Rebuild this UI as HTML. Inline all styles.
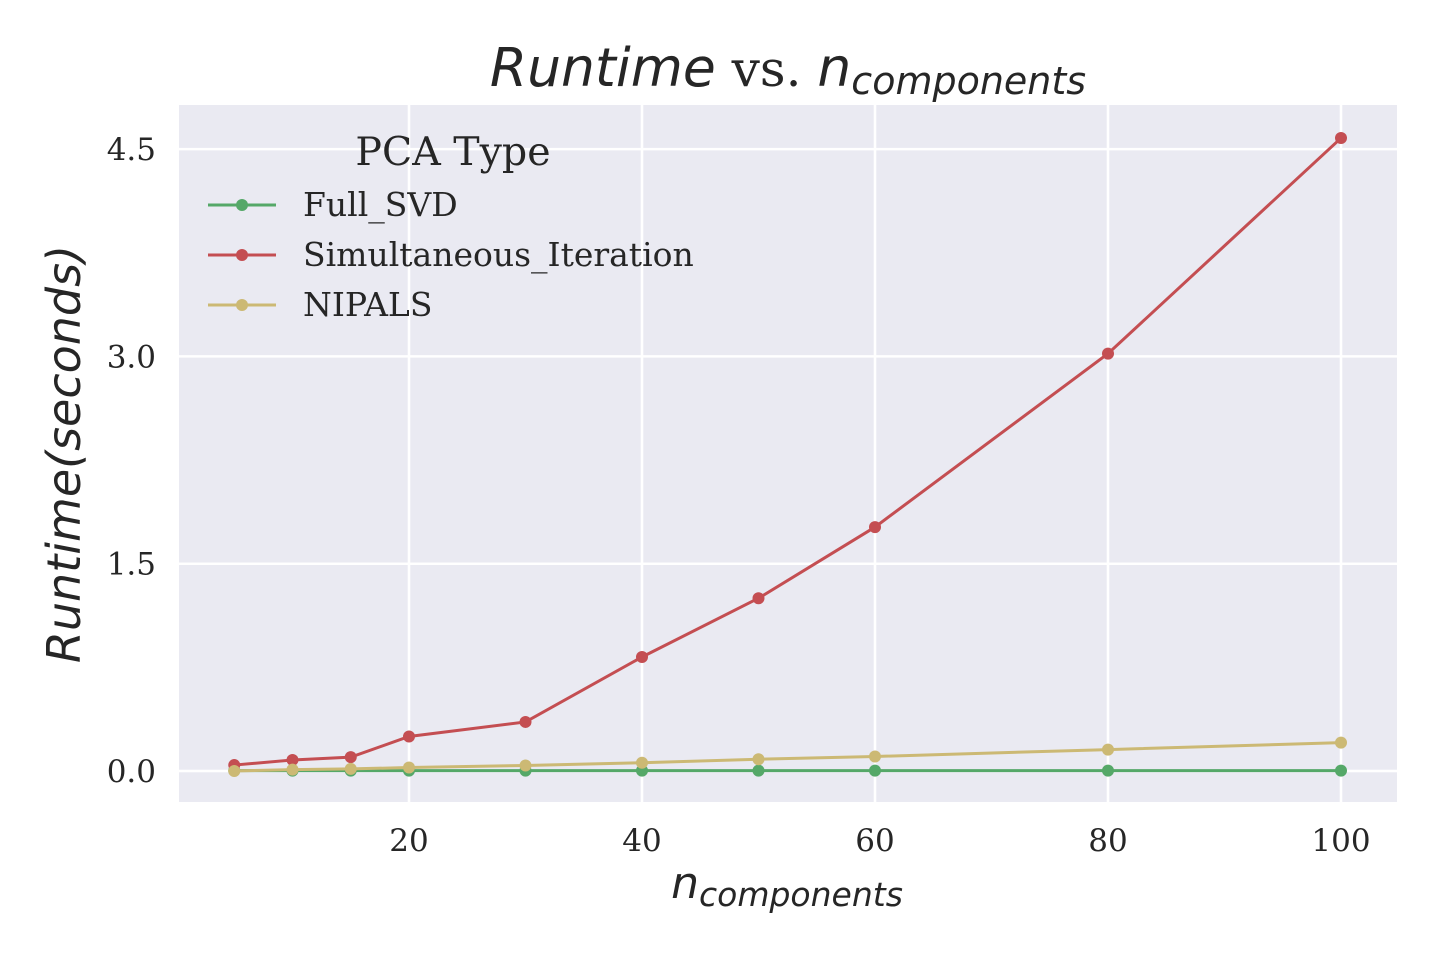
<!DOCTYPE html>
<html><head><meta charset="utf-8"><style>
body{margin:0;background:#fff;}
svg{display:block;}
.tk{font-family:"DejaVu Serif","Liberation Serif",serif;font-size:31px;fill:#262626;}
.mt{font-family:"DejaVu Sans","Liberation Sans",sans-serif;font-style:italic;fill:#262626;}
.vs{font-family:"DejaVu Serif","Liberation Serif",serif;font-size:50px;fill:#262626;}
</style></head><body>
<svg id="chart" width="1440" height="960">
<rect x="179" y="105" width="1218" height="697" fill="#eaeaf2"/>
<g id="grid"></g>
<g id="series"></g>
<g id="ticks"></g>
<text x="788" y="86" text-anchor="middle"><tspan class="mt" font-size="53.5">Runtime</tspan><tspan class="vs"> vs. </tspan><tspan class="mt" font-size="53.5">n</tspan><tspan class="mt" font-size="38" dy="8">components</tspan></text>
<text x="787" y="898" text-anchor="middle"><tspan class="mt" font-size="44">n</tspan><tspan class="mt" font-size="33" dy="8">components</tspan></text>
<text class="mt" transform="translate(80,454) rotate(-90)" text-anchor="middle" font-size="46">Runtime(seconds)</text>
<g>
<text class="tk" x="453" y="165" text-anchor="middle" style="font-size:39.5px">PCA Type</text>
<g id="legend"></g>
</g>
</svg>
<script>
const xVals=[5,10,15,20,30,40,50,60,80,100];
const fullSvd=[0.003,0.003,0.003,0.003,0.003,0.003,0.003,0.003,0.003,0.003];
const simIter=[0.043,0.08,0.10,0.25,0.355,0.825,1.25,1.765,3.02,4.58];
const nipals=[0.0,0.01,0.015,0.025,0.04,0.06,0.085,0.105,0.155,0.205];
const xTicks=[20,40,60,80,100];
const yTicks=[0.0,1.5,3.0,4.5];
const seriesNames=["Full_SVD","Simultaneous_Iteration","NIPALS"];
const NS="http://www.w3.org/2000/svg";
const X=v=>176+v*11.65;
const Y=v=>771-v*138.2;
function mk(t,a,p){const e=document.createElementNS(NS,t);for(const k in a)e.setAttribute(k,a[k]);p.appendChild(e);return e;}
const grid=document.getElementById('grid'),ticks=document.getElementById('ticks');
xTicks.forEach(t=>{
 const l=mk('line',{x1:X(t),x2:X(t),y1:105,y2:802,stroke:'#fff','stroke-width':2.5},grid);
 
 
 const tx=mk('text',{x:X(t),y:851,'text-anchor':'middle',class:'tk'},ticks);
 tx.textContent=t;
 
 
});
yTicks.forEach(t=>{
 const l=mk('line',{x1:179,x2:1397,y1:Y(t),y2:Y(t),stroke:'#fff','stroke-width':2.5},grid);
 
 
 const tx=mk('text',{x:156,y:Y(t)+11,'text-anchor':'end',class:'tk'},ticks);
 tx.textContent=t.toFixed(1);
 
 
});
const sg=document.getElementById('series');
const data=[fullSvd,simIter,nipals];
const colors=['#55a868','#c44e52','#ccb974'];
data.forEach((d,i)=>{
 const g=mk('g',{},sg);
 
 
 const p=mk('polyline',{points:d.map((v,j)=>X(xVals[j])+','+Y(v)).join(' '),fill:'none',stroke:colors[i],'stroke-width':3},g);
 
 
 d.forEach((v,j)=>{
  const c=mk('circle',{cx:X(xVals[j]),cy:Y(v),r:6,fill:colors[i]},g);
  
  
 });
});
const lg=document.getElementById('legend');
seriesNames.forEach((n,i)=>{
 const y=205+i*50;
 const g=mk('g',{},lg);
 
 
 mk('line',{x1:208,x2:276,y1:y,y2:y,stroke:colors[i],'stroke-width':3},g);
 mk('circle',{cx:242,cy:y,r:6,fill:colors[i]},g);
 const t=mk('text',{x:303,y:y+11,class:'tk',style:'font-size:33px'},g);
 t.textContent=n;
});
</script>
</body></html>
